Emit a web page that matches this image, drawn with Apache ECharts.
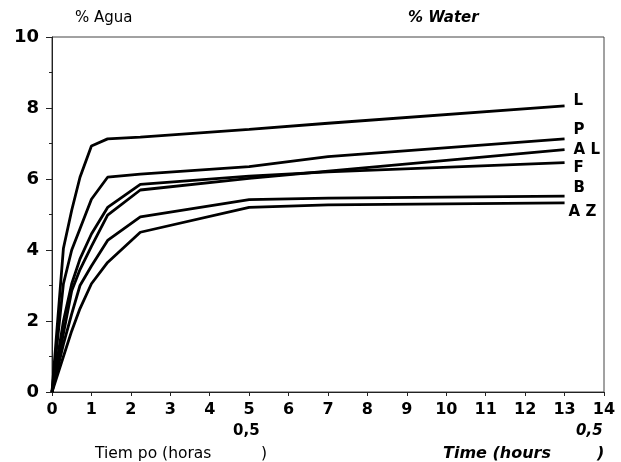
<!DOCTYPE html>
<html>
<head>
<meta charset="utf-8">
<script src="https://cdn.jsdelivr.net/npm/echarts@6/dist/echarts.min.js"></script>
<style>
  html, body { margin: 0; padding: 0; background: #fff; }
  #chart { width: 621px; height: 462px; }
</style>
</head>
<body>
<div id="chart"></div>
<script>
// time axis is sqrt(hours)
const timeSqrt = [0, 0.29, 0.5, 0.71, 1, 1.41, 2.24, 5, 7, 13]

const seriesNames = ['L', 'P', 'AL', 'F', 'B', 'AZ']
const valuesL  = [0, 4.05, 5.12, 6.05, 6.93, 7.13, 7.18, 7.40, 7.57, 8.06]
const valuesP  = [0, 3.05, 4.00, 4.60, 5.43, 6.05, 6.14, 6.35, 6.63, 7.13]
const valuesAL = [0, 1.65, 2.85, 3.45, 4.10, 4.98, 5.69, 6.02, 6.22, 6.83]
const valuesF  = [0, 2.00, 3.05, 3.75, 4.45, 5.20, 5.85, 6.08, 6.20, 6.46]
const valuesB  = [0, 1.35, 2.20, 3.00, 3.55, 4.27, 4.93, 5.42, 5.46, 5.52]
const valuesAZ = [0, 1.00, 1.72, 2.35, 3.05, 3.65, 4.50, 5.20, 5.27, 5.33]

const allValues = [valuesL, valuesP, valuesAL, valuesF, valuesB, valuesAZ]
// nudges for end labels so they sit like in the print
const labelOffsets = [[9, -5], [9, -9], [9, 1], [9, 5], [9, -8], [4, 9]]

const chart = echarts.init(document.getElementById('chart'))

const sans = 'DejaVu Sans, Verdana, sans-serif'

const option = {
  animation: false,
  backgroundColor: '#fff',
  grid: {
    left: 52,
    right: 17,
    top: 37,
    bottom: 70,
    show: true,
    borderColor: '#444',
    borderWidth: 1
  },
  xAxis: {
    type: 'value',
    min: 0,
    max: 14,
    interval: 1,
    axisLine: { show: true, lineStyle: { color: '#222', width: 1 } },
    axisTick: { show: true, length: 4, lineStyle: { color: '#222' } },
    axisLabel: {
      color: '#000',
      fontFamily: sans,
      fontWeight: 'bold',
      fontSize: 16,
      margin: 10
    },
    splitLine: { show: false }
  },
  yAxis: {
    type: 'value',
    min: 0,
    max: 10,
    interval: 2,
    axisLine: { show: true, lineStyle: { color: '#222', width: 1 } },
    axisTick: { show: true, length: 6, lineStyle: { color: '#222' } },
    minorTick: { show: true, splitNumber: 2, length: 3, lineStyle: { color: '#222' } },
    axisLabel: {
      color: '#000',
      fontFamily: sans,
      fontWeight: 'bold',
      fontSize: 18,
      margin: 13
    },
    splitLine: { show: false }
  },
  graphic: [
    { type: 'text', left: 75, top: 11, style: { text: '% Agua', font: '15px ' + sans, fill: '#000' } },
    { type: 'text', left: 408, top: 11, style: { text: '% Water', font: 'italic bold 15px ' + sans, fill: '#000' } },
    { type: 'text', left: 95, top: 446, style: { text: 'Tiem po (horas', font: '15.5px ' + sans, fill: '#000' } },
    { type: 'text', left: 233, top: 424, style: { text: '0,5', font: 'bold 15px ' + sans, fill: '#000' } },
    { type: 'text', left: 261, top: 446, style: { text: ')', font: '15.5px ' + sans, fill: '#000' } },
    { type: 'text', left: 443, top: 446, style: { text: 'Time (hours', font: 'italic bold 16px ' + sans, fill: '#000' } },
    { type: 'text', left: 576, top: 424, style: { text: '0,5', font: 'italic bold 15px ' + sans, fill: '#000' } },
    { type: 'text', left: 597, top: 446, style: { text: ')', font: 'italic bold 16px ' + sans, fill: '#000' } }
  ],
  series: seriesNames.map((name, i) => ({
    name: name,
    type: 'line',
    data: timeSqrt.map((t, j) => [t, allValues[i][j]]),
    showSymbol: false,
    smooth: false,
    lineStyle: { color: '#000', width: 2.8 },
    endLabel: {
      show: true,
      formatter: name === 'AL' ? 'A L' : (name === 'AZ' ? 'A Z' : name),
      color: '#000',
      fontFamily: sans,
      fontWeight: 'bold',
      fontSize: 15,
      distance: 0,
      offset: labelOffsets[i]
    }
  }))
}

chart.setOption(option)
</script>
</body>
</html>
